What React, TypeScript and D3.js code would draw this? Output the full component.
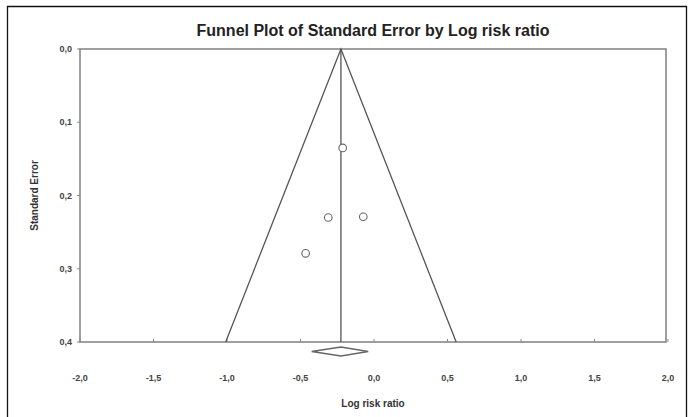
import React, { useEffect, useRef } from "react";
import * as d3 from "d3";

// study estimates (log risk ratio, standard error)
const studyLogRR = [-0.213, -0.311, -0.073, -0.465];
const studySE = [0.135, 0.23, 0.229, 0.279];

// pooled estimate and its CI (diamond)
const pooledEstimate = -0.225;
const pooledCI = [-0.424, -0.039];

const xTicks = [-2.0, -1.5, -1.0, -0.5, 0.0, 0.5, 1.0, 1.5, 2.0];
const yTicks = [0.0, 0.1, 0.2, 0.3, 0.4];

const fmt = (d: number) => d.toFixed(1).replace(".", ",");
const font = "Liberation Sans, Arial, sans-serif";

const FunnelPlot: React.FC = () => {
  const svgRef = useRef<SVGSVGElement>(null);

  useEffect(() => {
    if (!svgRef.current) return;
    const width = 691;
    const height = 417;
    const left = 80;
    const right = 666;
    const top = 49;
    const bottom = 342;

    const svg = d3.select(svgRef.current).attr("width", width).attr("height", height);
    svg.selectAll("*").remove();

    const xScale = d3.scaleLinear().domain([-2, 2]).range([left, 668]);
    const yScale = d3.scaleLinear().domain([0, 0.4]).range([top, bottom]);

    // outer border (bottom edge is cut off in the original)
    svg
      .append("path")
      .attr("d", "M7.5,417 V6.5 H686.5 V417")
      .attr("fill", "none")
      .attr("stroke", "#111")
      .attr("stroke-width", 1.3);

    // title
    svg
      .append("text")
      .attr("x", 373)
      .attr("y", 36)
      .attr("text-anchor", "middle")
      .attr("font-family", font)
      .attr("font-weight", "bold")
      .attr("font-size", 16)
      .attr("fill", "#222")
      .text("Funnel Plot of Standard Error by Log risk ratio");

    // plot frame
    svg
      .append("rect")
      .attr("x", left)
      .attr("y", top)
      .attr("width", right - left)
      .attr("height", bottom - top)
      .attr("fill", "none")
      .attr("stroke", "#888")
      .attr("stroke-width", 1.6);

    // x axis ticks (inside) + labels
    const xAxis = svg.append("g");
    xTicks.forEach((t) => {
      xAxis
        .append("line")
        .attr("x1", xScale(t))
        .attr("x2", xScale(t))
        .attr("y1", bottom)
        .attr("y2", bottom - 3)
        .attr("stroke", "#888");
      xAxis
        .append("text")
        .attr("x", xScale(t))
        .attr("y", 381)
        .attr("text-anchor", "middle")
        .attr("font-family", font)
        .attr("font-weight", "bold")
        .attr("font-size", 9)
        .attr("fill", "#444")
        .text(fmt(t));
    });

    // y axis ticks (outside) + labels
    const yAxis = svg.append("g");
    yTicks.forEach((t) => {
      yAxis
        .append("line")
        .attr("x1", left)
        .attr("x2", left - 3)
        .attr("y1", yScale(t))
        .attr("y2", yScale(t))
        .attr("stroke", "#888");
      yAxis
        .append("text")
        .attr("x", 72)
        .attr("y", yScale(t) + 3)
        .attr("text-anchor", "end")
        .attr("font-family", font)
        .attr("font-weight", "bold")
        .attr("font-size", 9)
        .attr("fill", "#444")
        .text(fmt(t));
    });

    // axis titles
    svg
      .append("text")
      .attr("x", 373)
      .attr("y", 407)
      .attr("text-anchor", "middle")
      .attr("font-family", font)
      .attr("font-weight", "bold")
      .attr("font-size", 10)
      .attr("fill", "#333")
      .text("Log risk ratio");

    svg
      .append("text")
      .attr("transform", `translate(38,${(top + bottom) / 2}) rotate(-90)`)
      .attr("text-anchor", "middle")
      .attr("font-family", font)
      .attr("font-weight", "bold")
      .attr("font-size", 10)
      .attr("fill", "#333")
      .text("Standard Error");

    // funnel lines (95% limits)
    const seMax = 0.4;
    const funnel: [number, number][] = [
      [pooledEstimate - 1.96 * seMax, seMax],
      [pooledEstimate, 0],
      [pooledEstimate + 1.96 * seMax, seMax],
    ];
    const line = d3
      .line<[number, number]>()
      .x((d) => xScale(d[0]))
      .y((d) => yScale(d[1]));
    svg
      .append("path")
      .datum(funnel)
      .attr("fill", "none")
      .attr("stroke", "#555")
      .attr("stroke-width", 1.3)
      .attr("d", line);

    // center line
    svg
      .append("line")
      .attr("x1", xScale(pooledEstimate))
      .attr("x2", xScale(pooledEstimate))
      .attr("y1", yScale(0))
      .attr("y2", yScale(0.4))
      .attr("stroke", "#555")
      .attr("stroke-width", 1.3);

    // study points
    svg
      .append("g")
      .selectAll("circle")
      .data(studyLogRR.map((x, i) => ({ x, y: studySE[i] })))
      .join("circle")
      .attr("cx", (d) => xScale(d.x))
      .attr("cy", (d) => yScale(d.y))
      .attr("r", 3.8)
      .attr("fill", "#fff")
      .attr("stroke", "#666")
      .attr("stroke-width", 1.1);

    // pooled diamond
    const dy = 351.5;
    const diamond: [number, number][] = [
      [xScale(pooledCI[0]), dy],
      [xScale(pooledEstimate), dy - 4.5],
      [xScale(pooledCI[1]), dy],
      [xScale(pooledEstimate), dy + 4.5],
    ];
    svg
      .append("polygon")
      .attr("points", diamond.map((p) => p.join(",")).join(" "))
      .attr("fill", "#fff")
      .attr("stroke", "#666")
      .attr("stroke-width", 1.3);
  }, []);

  return (
    <div style={{ position: "absolute", left: 0, top: 0 }}>
      <svg ref={svgRef} width={691} height={417} style={{ display: "block" }}></svg>
    </div>
  );
};

export default function App() {
  return <FunnelPlot />;
}
